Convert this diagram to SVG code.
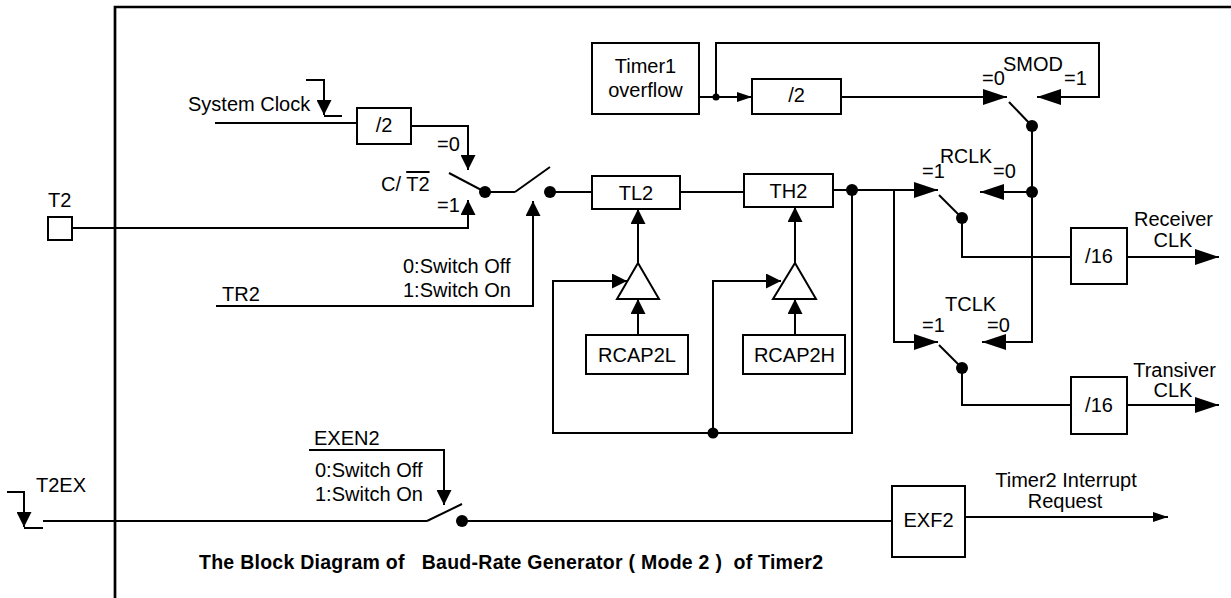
<svg xmlns="http://www.w3.org/2000/svg" width="1231" height="598" viewBox="0 0 1231 598">
<style>
.ln{fill:none;stroke:#000;stroke-width:2}
.bx{fill:#fff;stroke:#000;stroke-width:2}
.fr{fill:none;stroke:#000;stroke-width:2.7}
.dot{fill:#000}
.t{font-family:"Liberation Sans",Arial,sans-serif;font-size:20px;fill:#000}
.c{text-anchor:middle}
.cap{font-weight:bold;font-size:19.5px}
</style>
<defs>
<marker id="aS" markerUnits="userSpaceOnUse" viewBox="0 0 15 15" markerWidth="15" markerHeight="15" refX="15" refY="7.5" orient="auto"><path d="M0,0 L15,7.5 L0,15 z"/></marker>
<marker id="aL" markerUnits="userSpaceOnUse" viewBox="0 0 24 16" markerWidth="24" markerHeight="16" refX="24" refY="8" orient="auto"><path d="M0,0 L24,8 L0,16 z"/></marker>
<marker id="aM" markerUnits="userSpaceOnUse" viewBox="0 0 15 10" markerWidth="15" markerHeight="10" refX="15" refY="5" orient="auto"><path d="M0,0 L15,5 L0,10 z"/></marker>
</defs>
<rect width="1231" height="598" fill="#fff"/>
<g id="frame"><path class="fr" d="M115,598 V7 H1231"/></g>

<g id="connectors">
<path class="ln" d="M215,123 H357"/>
<path class="ln" d="M306,80 H324 V115" marker-end="url(#aS)"/>
<path class="ln" d="M324,116 H342"/>
<path class="ln" d="M411,126 H468 V170" marker-end="url(#aS)"/>
<path class="ln" d="M72,228 H468 V200" marker-end="url(#aS)"/>
<path class="ln" d="M216,306 H533 V201" marker-end="url(#aS)"/>
<path class="ln" d="M550,192 H592"/>
<path class="ln" d="M680,192 H744"/>
<path class="ln" d="M833,190 H938" marker-end="url(#aL)"/>
<path class="ln" d="M852,190 V433 H553 V281 H627" marker-end="url(#aS)"/>
<path class="ln" d="M713,433 V281 H781" marker-end="url(#aS)"/>
<path class="ln" d="M894,190 V342 H938" marker-end="url(#aL)"/>
<path class="ln" d="M638,263 V209" marker-end="url(#aS)"/>
<path class="ln" d="M795,263 V207" marker-end="url(#aS)"/>
<path class="ln" d="M638,335 V299" marker-end="url(#aS)"/>
<path class="ln" d="M795,335 V299" marker-end="url(#aS)"/>
<path class="ln" d="M699,97 H752" marker-end="url(#aM)"/>
<path class="ln" d="M716,97 V43 H1099 V97 H1037" marker-end="url(#aL)"/>
<path class="ln" d="M841,97 H1007" marker-end="url(#aL)"/>
<path class="ln" d="M1032,126 V342 H982" marker-end="url(#aL)"/>
<path class="ln" d="M1032,192 H980" marker-end="url(#aL)"/>
<path class="ln" d="M962,218 V257 H1071"/>
<path class="ln" d="M1127,257 H1219" marker-end="url(#aL)"/>
<path class="ln" d="M962,368 V405 H1071"/>
<path class="ln" d="M1127,405 H1219" marker-end="url(#aL)"/>
<path class="ln" d="M7,492 H24 V527" marker-end="url(#aS)"/>
<path class="ln" d="M24,528 H43"/>
<path class="ln" d="M43,521 H427"/>
<path class="ln" d="M309,450 H444 V505" marker-end="url(#aS)"/>
<path class="ln" d="M462,521 H892"/>
<path class="ln" d="M965,517 H1168" marker-end="url(#aM)"/>
<circle class="dot" cx="716" cy="97" r="3.5"/>
<circle class="dot" cx="852" cy="190" r="6"/>
<circle class="dot" cx="713" cy="433" r="5.5"/>
<circle class="dot" cx="1032" cy="192" r="6"/>
</g>

<g id="sw-ct2">
<path class="ln" d="M449,173 L485,192 H515"/>
<circle class="dot" cx="485" cy="192" r="6"/>
<text class="t" x="437" y="151">=0</text>
<text class="t" x="381" y="191">C/ <tspan text-decoration="overline">T2</tspan></text>
<text class="t" x="437" y="212">=1</text>
</g>
<g id="sw-tr2">
<path class="ln" d="M515,192 L550,167"/>
<circle class="dot" cx="550" cy="192" r="6"/>
<text class="t" x="403" y="273">0:Switch Off</text>
<text class="t" x="403" y="297">1:Switch On</text>
<text class="t" x="222" y="301">TR2</text>
</g>
<g id="sw-smod">
<path class="ln" d="M1009,102 L1032,126"/>
<circle class="dot" cx="1032" cy="126" r="6"/>
<text class="t" x="982" y="85">=0</text>
<text class="t" x="1003" y="71">SMOD</text>
<text class="t" x="1064" y="85">=1</text>
</g>
<g id="sw-rclk">
<path class="ln" d="M939,195 L962,218"/>
<circle class="dot" cx="962" cy="218" r="6"/>
<text class="t" x="940" y="163" style="font-size:19.5px">RCLK</text>
<text class="t" x="922" y="178">=1</text>
<text class="t" x="993" y="178">=0</text>
</g>
<g id="sw-tclk">
<path class="ln" d="M939,345 L962,368"/>
<circle class="dot" cx="962" cy="368" r="6"/>
<text class="t" x="945" y="311">TCLK</text>
<text class="t" x="922" y="332">=1</text>
<text class="t" x="987" y="332">=0</text>
</g>
<g id="sw-exen2">
<path class="ln" d="M427,521 L462,504"/>
<circle class="dot" cx="462" cy="521" r="6"/>
<text class="t" x="314" y="445">EXEN2</text>
<text class="t" x="315" y="477">0:Switch Off</text>
<text class="t" x="315" y="501">1:Switch On</text>
</g>

<g id="sysclk"><text class="t" x="188" y="111">System Clock</text></g>
<g id="pin-t2"><rect class="bx" x="48" y="217" width="24" height="23"/><text class="t" x="48" y="207">T2</text></g>
<g id="pin-t2ex"><text class="t" x="36" y="492">T2EX</text></g>
<g id="div2a"><rect class="bx" x="357" y="108" width="54" height="36"/><text class="t c" x="384" y="132">/2</text></g>
<g id="timer1"><rect class="bx" x="592" y="43" width="107" height="71"/><text class="t c" x="645.5" y="73">Timer1</text><text class="t c" x="645.5" y="97">overflow</text></g>
<g id="div2b"><rect class="bx" x="752" y="79" width="89" height="35"/><text class="t c" x="796.5" y="102">/2</text></g>
<g id="tl2"><rect class="bx" x="592" y="176" width="88" height="33"/><text class="t c" x="636" y="200">TL2</text></g>
<g id="th2"><rect class="bx" x="744" y="174" width="89" height="33"/><text class="t c" x="788.5" y="198">TH2</text></g>
<g id="buf-l"><path class="bx" d="M638,263 L659,299 H617 Z"/></g>
<g id="buf-h"><path class="bx" d="M795,263 L816,299 H773 Z"/></g>
<g id="rcap2l"><rect class="bx" x="586" y="335" width="102" height="39"/><text class="t c" x="637" y="362">RCAP2L</text></g>
<g id="rcap2h"><rect class="bx" x="743" y="335" width="102" height="39"/><text class="t c" x="794.5" y="362">RCAP2H</text></g>
<g id="div16r"><rect class="bx" x="1071" y="228" width="56" height="56"/><text class="t c" x="1099" y="263">/16</text></g>
<g id="div16t"><rect class="bx" x="1071" y="377" width="56" height="57"/><text class="t c" x="1099" y="412">/16</text></g>
<g id="out-rx"><text class="t c" x="1173.5" y="226">Receiver</text><text class="t c" x="1173" y="247">CLK</text></g>
<g id="out-tx"><text class="t c" x="1174.5" y="377">Transiver</text><text class="t c" x="1173" y="397">CLK</text></g>
<g id="exf2"><rect class="bx" x="892" y="486" width="73" height="71"/><text class="t c" x="928.5" y="527">EXF2</text></g>
<g id="out-int"><text class="t c" x="1066" y="487">Timer2 Interrupt</text><text class="t c" x="1065" y="508">Request</text></g>
<g id="caption"><text class="t cap" x="199" y="569" textLength="624" lengthAdjust="spacing" xml:space="preserve">The Block Diagram of   Baud-Rate Generator ( Mode 2 )  of Timer2</text></g>
</svg>
